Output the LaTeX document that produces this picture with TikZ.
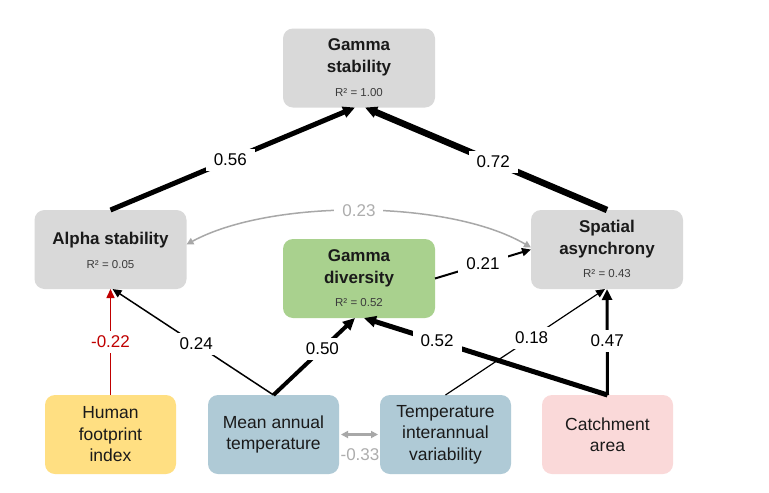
\documentclass[tikz,border=0pt]{standalone}
\usepackage{fontspec}
\setmainfont{Liberation Sans}
\usetikzlibrary{arrows.meta}
\definecolor{boxgray}{HTML}{D9D9D9}
\definecolor{boxgreen}{HTML}{A9D18E}
\definecolor{boxyellow}{HTML}{FFDF82}
\definecolor{boxblue}{HTML}{AFCAD6}
\definecolor{boxpink}{HTML}{FAD9D9}
\definecolor{linegray}{HTML}{A8A8A8}
\definecolor{txtgray}{HTML}{ADADAD}
\definecolor{redline}{HTML}{C00000}
\definecolor{txtdark}{HTML}{1A1A1A}
\begin{document}
\begin{tikzpicture}[x=1pt,y=-1pt,
  box/.style={rounded corners=10pt, minimum width=152pt, minimum height=79pt, inner sep=0pt, outer sep=0pt},
  bbox/.style={box, minimum width=131pt, align=center, text=txtdark, font=\fontsize{17.5}{21.5}\selectfont},
  ttl/.style={align=center, inner sep=0pt, text=txtdark, font=\bfseries\fontsize{17}{22}\selectfont},
  rsq/.style={inner sep=0pt, text=txtdark!85, font=\fontsize{11.5}{13}\selectfont},
  lab/.style={fill=white, inner xsep=8pt, inner ysep=5pt, font=\fontsize{17}{19}\selectfont},
  bigarr/.style={-{Triangle[length=12pt,width=11pt]}},
  smallarr/.style={-{Triangle[length=9pt,width=8pt]}},
  grayarr/.style={linegray, line width=1.8pt, {Triangle[length=7pt,width=7pt]}-{Triangle[length=7pt,width=7pt]}}
]
\useasboundingbox[fill=white] (0,0) rectangle (769,493);

% boxes
\node[box, fill=boxgray] (gs) at (359,68) {};
\node[ttl] (gst) at (359,57) {Gamma\\stability};
\node[rsq] (gsr) at (359,93) {R² = 1.00};

\node[box, fill=boxgray] (as) at (110.5,249.5) {};
\node[ttl] (ast) at (110.5,240) {Alpha stability};
\node[rsq] (asr) at (110.5,265) {R² = 0.05};

\node[box, fill=boxgray] (sa) at (607,249.5) {};
\node[ttl] (sat) at (607,239) {Spatial\\asynchrony};
\node[rsq] (sar) at (607,274) {R² = 0.43};

\node[box, fill=boxgreen] (gd) at (359,278.5) {};
\node[ttl] (gdt) at (359,268.5) {Gamma\\diversity};
\node[rsq] (gdr) at (359,303) {R² = 0.52};

\node[bbox, fill=boxyellow] (hf) at (110.5,434.5) {Human\\footprint\\index};
\node[bbox, fill=boxblue] (mat) at (273.5,434.5) {Mean annual\\temperature};
\node[bbox, fill=boxblue] (tiv) at (445.5,434.5) {Temperature\\interannual\\variability};
\node[bbox, fill=boxpink] (ca) at (607.5,434.5) {Catchment\\area};

% arrows
\draw[bigarr, line width=5pt] (as.north) -- node[lab, pos=0.49] (l56) {0.56} ([xshift=-4pt]gs.south);
\draw[bigarr, line width=6.5pt] (sa.north) -- node[lab, pos=0.47] (l72) {0.72} ([xshift=6pt]gs.south);

\draw[grayarr, line width=1.5pt] ([yshift=5pt]as.east) .. controls (270,199) and (448,199) .. ([yshift=2pt]sa.west)
  node[pos=0.5, lab, text=txtgray] (l23) {0.23};

\draw[smallarr, line width=2pt] (gd.east) -- node[lab, pos=0.5] (l21) {0.21} (sa.west);

\draw[smallarr, line width=1.5pt, redline] (hf.north) -- node[lab, pos=0.5, text=redline] (l22) {-0.22} (as.south);
\draw[smallarr, line width=1.5pt] (mat.north) -- node[lab, pos=0.48] (l24) {0.24} ([xshift=2pt]as.south);
\draw[bigarr, line width=4pt] (mat.north) -- node[lab, pos=0.6] (l50) {0.50} ([xshift=-4pt]gd.south);
\draw[bigarr, line width=5pt] (ca.north) -- node[lab, pos=0.7] (l52) {0.52} ([xshift=5pt]gd.south);
\draw[smallarr, line width=1.2pt] (tiv.north) -- node[lab, pos=0.54] (l18) {0.18} ([xshift=-2pt]sa.south);
\draw[-{Triangle[length=11pt,width=10pt]}, line width=3pt] (ca.north) -- node[lab, pos=0.51] (l47) {0.47} (sa.south);

\draw[grayarr, line width=2.2pt, shorten <=2pt, shorten >=2pt] (mat.east) -- (tiv.west);
\node[inner sep=0pt, text=txtgray, font=\fontsize{17}{19}\selectfont] (l33) at (360,455) {-0.33};
\end{tikzpicture}
\end{document}
